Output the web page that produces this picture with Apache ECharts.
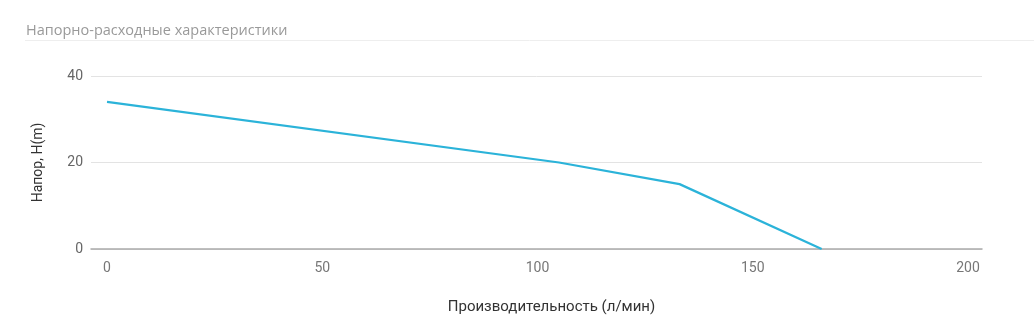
<!DOCTYPE html>
<html><head><meta charset="utf-8">
<script src="https://cdn.jsdelivr.net/npm/echarts@6/dist/echarts.min.js"></script>
<style>html,body{margin:0;padding:0;background:#fff}#c{width:1034px;height:334px}</style>
</head><body><div id="c"></div>
<script>
const titleText = "Напорно-расходные характеристики";
const xName = "Производительность (л/мин)";
const yName = "Напор, H(m)";
const flowValues = [0, 105, 133, 166];
const headValues = [34, 20, 15, 0];
const xTicks = [0, 50, 100, 150, 200];
const yTicks = [0, 20, 40];

const chart = echarts.init(document.getElementById('c'), null, {renderer: 'canvas'});
chart.setOption({
  animation: false,
  backgroundColor: '#fff',
  textStyle: {fontFamily: 'Roboto'},
  title: {text: titleText, left: 21, top: 18, textStyle: {fontSize: 14.5, fontWeight: 'normal', color: '#999', fontFamily: 'Open Sans'}},
  graphic: [{type: 'line', shape: {x1: 25, y1: 40.5, x2: 1034, y2: 40.5}, style: {stroke: '#eeeeee', lineWidth: 1}}],
  grid: {left: 91, right: 52, top: 76, bottom: 85, containLabel: false},
  xAxis: {
    type: 'value', min: -3.72, max: 203.25,
    name: xName, nameLocation: 'middle', nameGap: 51,
    nameTextStyle: {fontSize: 15, color: '#333', padding: [0, 0, 0, 30]},
    axisLine: {show: true, lineStyle: {color: '#aaa', width: 1.5}},
    axisTick: {show: false},
    splitLine: {show: false},
    axisLabel: {customValues: xTicks, color: '#777', fontSize: 14, margin: 12}
  },
  yAxis: {
    type: 'value', min: 0, max: 40, interval: 20,
    name: yName, nameLocation: 'middle', nameGap: 46, nameRotate: 90,
    nameTextStyle: {fontSize: 14, color: '#333'},
    axisLine: {show: false}, axisTick: {show: false},
    splitLine: {lineStyle: {color: '#e3e3e3'}},
    axisLabel: {color: '#666', fontSize: 14, margin: 8}
  },
  series: [{
    type: 'line', data: flowValues.map((x, i) => [x, headValues[i]]),
    showSymbol: false, lineStyle: {color: '#2bb3d9', width: 2.2}, itemStyle: {color: '#2bb3d9'}
  }]
});
</script></body></html>
